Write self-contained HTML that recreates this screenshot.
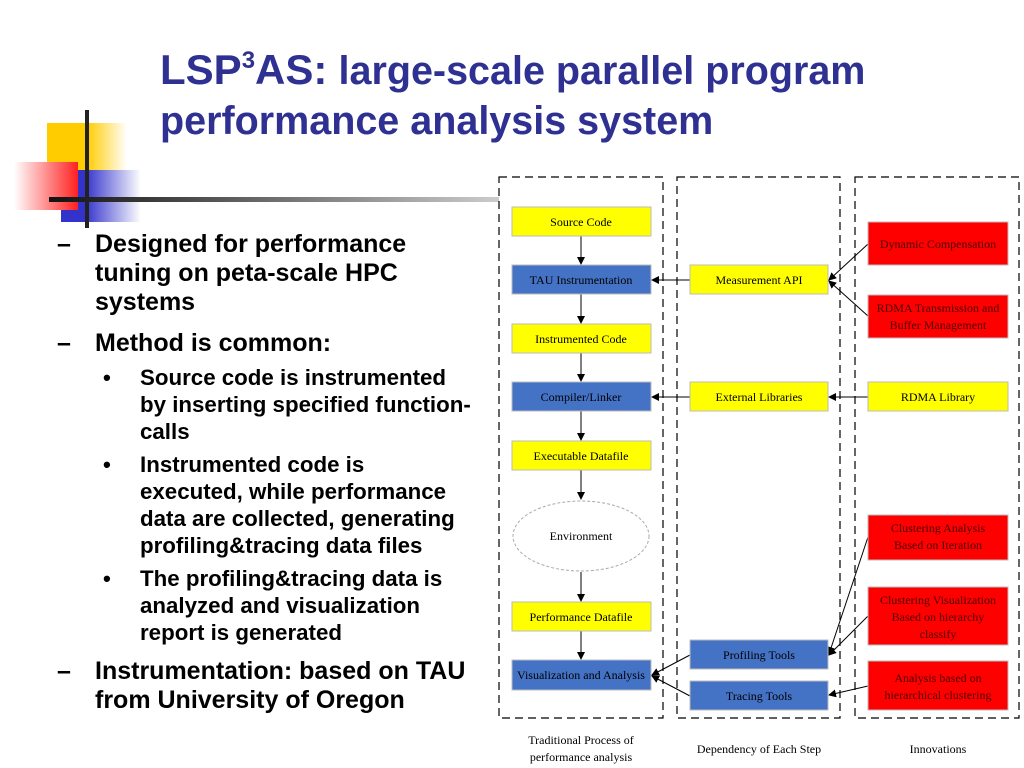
<!DOCTYPE html>
<html><head><meta charset="utf-8"><style>
body{margin:0;width:1024px;height:768px;background:#fff;position:relative;overflow:hidden;font-family:"Liberation Sans",sans-serif}
.t{position:absolute;color:#2E3192;font-weight:bold}
.l{position:absolute;font-weight:bold;color:#000;font-size:25px;line-height:29px;white-space:nowrap}
.s{font-size:22.3px;line-height:27px}
</style></head><body>
<div class="t" style="left:160px;top:36px;font-size:40px;line-height:50px;white-space:nowrap"><span style="font-size:42px">LSP<sup style="font-size:24px;vertical-align:16px">3</sup>AS:</span> <span style="font-size:39.5px">large-scale parallel program<br>performance analysis system</span></div>
<svg width="500" height="240" style="position:absolute;left:0;top:100px">
<defs>
<linearGradient id="gy" x1="0" x2="1"><stop offset="0.5" stop-color="#FFCC00"/><stop offset="1" stop-color="#fff"/></linearGradient>
<linearGradient id="gb" x1="0" x2="1"><stop offset="0.3" stop-color="#3333CC"/><stop offset="1" stop-color="#fff"/></linearGradient>
<linearGradient id="gr" x1="1" x2="0"><stop offset="0" stop-color="#FF2020"/><stop offset="1" stop-color="#fff"/></linearGradient>
<linearGradient id="gl" x1="0" x2="1"><stop offset="0" stop-color="#111"/><stop offset="1" stop-color="#ccc"/></linearGradient>
</defs>
<rect x="47" y="23" width="80" height="50" fill="url(#gy)"/>
<rect x="61" y="70" width="80" height="52" fill="url(#gb)"/>
<rect x="14" y="62" width="64" height="48" fill="url(#gr)"/>
<rect x="49" y="97" width="450" height="5" fill="url(#gl)"/>
<rect x="85" y="10" width="4" height="118" fill="#222"/>
</svg>
<div>
<div class="l" style="left:57px;top:230px">–</div>
<div class="l" style="left:95px;top:230px">Designed for performance<br>tuning on peta-scale HPC<br>systems</div>
<div class="l" style="left:57px;top:329px">–</div>
<div class="l" style="left:95px;top:329px">Method is common:</div>
<div class="l s" style="left:103px;top:364px">•</div>
<div class="l s" style="left:140px;top:364px">Source code is instrumented<br>by inserting specified function-<br>calls</div>
<div class="l s" style="left:103px;top:451px">•</div>
<div class="l s" style="left:140px;top:451px">Instrumented code is<br>executed, while performance<br>data are collected, generating<br>profiling&amp;tracing data files</div>
<div class="l s" style="left:103px;top:565px">•</div>
<div class="l s" style="left:140px;top:565px">The profiling&amp;tracing data is<br>analyzed and visualization<br>report is generated</div>
<div class="l" style="left:57px;top:657px">–</div>
<div class="l" style="left:95px;top:657px">Instrumentation: based on TAU<br>from University of Oregon</div>
</div>
<svg width="1024" height="768" style="position:absolute;left:0;top:0" font-family="Liberation Serif,serif" font-size="12" text-anchor="middle">
<defs><marker id="a" markerWidth="8" markerHeight="8" refX="7" refY="4" orient="auto"><path d="M0,0L8,4L0,8z" fill="#000"/></marker></defs>
<g fill="none" stroke="#000" stroke-dasharray="8,5" stroke-width="1.2">
<rect x="499" y="177" width="164" height="541"/>
<rect x="677" y="177" width="163" height="541"/>
<rect x="855" y="177" width="164" height="541"/>
</g>
<g stroke="#000" stroke-width="1" marker-end="url(#a)">
<line x1="581" y1="236" x2="581" y2="264"/><line x1="581" y1="294" x2="581" y2="323"/>
<line x1="581" y1="353" x2="581" y2="381"/><line x1="581" y1="411" x2="581" y2="440"/>
<line x1="581" y1="470" x2="581" y2="499"/><line x1="581" y1="572" x2="581" y2="601"/>
<line x1="581" y1="631" x2="581" y2="659"/>
<line x1="690" y1="280" x2="652" y2="280"/><line x1="690" y1="397" x2="652" y2="397"/>
<line x1="868" y1="397" x2="829" y2="397"/>
<line x1="868" y1="244" x2="829" y2="280"/><line x1="868" y1="316" x2="829" y2="281"/>
<line x1="868" y1="537" x2="829" y2="654"/><line x1="868" y1="616" x2="829" y2="655"/>
<line x1="868" y1="686" x2="829" y2="695"/>
<line x1="690" y1="655" x2="652" y2="675"/><line x1="690" y1="696" x2="652" y2="676"/>
</g>
<g stroke="#bbb" stroke-width="1">
<rect x="512" y="207" width="139" height="29" fill="#FFFF00"/>
<rect x="512" y="265" width="139" height="29" fill="#4472C4"/>
<rect x="512" y="324" width="139" height="29" fill="#FFFF00"/>
<rect x="512" y="382" width="139" height="29" fill="#4472C4"/>
<rect x="512" y="441" width="139" height="29" fill="#FFFF00"/>
<rect x="512" y="602" width="139" height="29" fill="#FFFF00"/>
<rect x="512" y="660" width="139" height="30" fill="#4472C4"/>
<rect x="690" y="265" width="138" height="29" fill="#FFFF00"/>
<rect x="690" y="382" width="138" height="29" fill="#FFFF00"/>
<rect x="690" y="640" width="138" height="29" fill="#4472C4"/>
<rect x="690" y="681" width="138" height="29" fill="#4472C4"/>
<rect x="868" y="222" width="140" height="43" fill="#FF0000"/>
<rect x="868" y="295" width="140" height="43" fill="#FF0000"/>
<rect x="868" y="382" width="140" height="29" fill="#FFFF00"/>
<rect x="868" y="515" width="140" height="45" fill="#FF0000"/>
<rect x="868" y="587" width="140" height="58" fill="#FF0000"/>
<rect x="868" y="661" width="140" height="49" fill="#FF0000"/>
</g>
<ellipse cx="581" cy="536" rx="68" ry="35" fill="#fff" stroke="#aaa" stroke-dasharray="3,2"/>
<g fill="#000">
<text x="581" y="226">Source Code</text><text x="581" y="284">TAU Instrumentation</text>
<text x="581" y="343">Instrumented Code</text><text x="581" y="401">Compiler/Linker</text>
<text x="581" y="460">Executable Datafile</text><text x="581" y="540">Environment</text>
<text x="581" y="621">Performance Datafile</text><text x="581" y="679">Visualization and Analysis</text>
<text x="759" y="284">Measurement API</text><text x="759" y="401">External Libraries</text>
<text x="759" y="659">Profiling Tools</text><text x="759" y="700">Tracing   Tools</text>
<text x="938" y="401">RDMA Library</text>
</g>
<g fill="#4a0000">
<text x="938" y="248">Dynamic Compensation</text>
<text x="938" y="312">RDMA Transmission and</text><text x="938" y="329">Buffer Management</text>
<text x="938" y="532">Clustering Analysis</text><text x="938" y="549">Based on Iteration</text>
<text x="938" y="604">Clustering Visualization</text><text x="938" y="621">Based on hierarchy</text><text x="938" y="638">classify</text>
<text x="938" y="682">Analysis based on</text><text x="938" y="699">hierarchical clustering</text>
</g>
<g fill="#000">
<text x="581" y="744">Traditional Process of</text><text x="581" y="761">performance analysis</text>
<text x="759" y="753">Dependency of Each Step</text><text x="938" y="753">Innovations</text>
</g>
</svg>
</body></html>
